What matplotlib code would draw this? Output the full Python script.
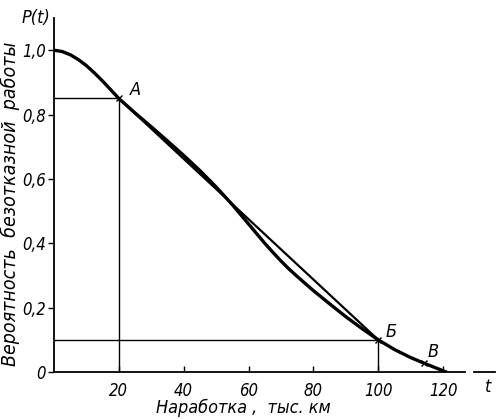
import matplotlib.pyplot as plt

t = [0, 2.5, 5, 7.5, 10, 12.5, 15, 17.5, 20, 25, 30, 35, 40, 45, 50, 55,
     57.5, 60, 62.5, 65, 67.5, 70, 72.5, 75, 77.5, 80, 85, 90, 95, 100,
     105, 110, 114, 118, 121]
p = [1.0, 0.996, 0.986, 0.971, 0.952, 0.929, 0.904, 0.877, 0.85, 0.805,
     0.762, 0.718, 0.673, 0.626, 0.575, 0.52, 0.49, 0.46, 0.43, 0.40,
     0.372, 0.345, 0.32, 0.297, 0.275, 0.253, 0.212, 0.172, 0.135, 0.10,
     0.07, 0.045, 0.028, 0.012, 0.0]

points = ['A', 'Б', 'В']
pt_t = [20, 100, 114]
pt_p = [0.85, 0.10, 0.028]

xticks = [20, 40, 60, 80, 100, 120]
yticks = [0, 0.2, 0.4, 0.6, 0.8, 1.0]
ylabels = ['0', '0,2', '0,4', '0,6', '0,8', '1,0']

plt.rcParams['font.family'] = ['DejaVu Sans']
plt.rcParams['font.stretch'] = 'condensed'
plt.rcParams['font.style'] = 'italic'

fig = plt.figure(figsize=(5, 4.19), dpi=100)
ax = fig.add_axes([0.108, 0.112, 0.882, 0.845])

ax.plot(t, p, color='black', lw=2.4, solid_capstyle='round',
        solid_joinstyle='round')
# хорда А-Б
ax.plot([pt_t[0], pt_t[1]], [pt_p[0], pt_p[1]], color='black', lw=1.6)

# проекции точек А и Б на оси
for i in range(2):
    ax.plot([0, pt_t[i]], [pt_p[i], pt_p[i]], color='black', lw=1.0)
    ax.plot([pt_t[i], pt_t[i]], [0, pt_p[i]], color='black', lw=1.0)

ax.plot(pt_t, pt_p, ls='none', marker='x', ms=5, mew=1.0, color='black')
offs = [(5, 0.025), (4, 0.025), (3, 0.035)]
for i in range(len(points)):
    ax.text(pt_t[i] + offs[i][0], pt_p[i] + offs[i][1], points[i],
            fontsize=13, ha='center', va='center')

ax.set_xlim(0, 136)
ax.set_ylim(0, 1.1)
ax.spines['top'].set_visible(False)
ax.spines['right'].set_visible(False)
ax.spines['left'].set_linewidth(1.3)
ax.spines['bottom'].set_linewidth(1.3)
# разрыв оси после 120
ax.plot([127.6, 128.6], [0, 0], color='white', lw=3, clip_on=False, zorder=5)

ax.set_xticks(xticks)
ax.set_xticklabels([str(v) for v in xticks])
ax.set_yticks(yticks)
ax.set_yticklabels(ylabels)
ax.tick_params(axis='x', direction='in', length=4, width=1, labelsize=12, pad=7)
ax.tick_params(axis='y', direction='out', length=4, width=1, labelsize=12, pad=2)

ax.set_xlabel('Наработка ,  тыс. км', fontsize=13, labelpad=0)
ax.xaxis.set_label_coords(0.43, -0.075)
ax.set_ylabel('Вероятность  безотказной  работы', fontsize=14)
ax.yaxis.set_label_coords(-0.078, 0.475)

ax.text(-0.04, 1.0, 'P(t)', transform=ax.transAxes, fontsize=13,
        ha='center', va='center')
ax.text(0.985, -0.042, 't', transform=ax.transAxes, fontsize=13,
        ha='center', va='center')

fig.savefig('out.png', dpi=100)
